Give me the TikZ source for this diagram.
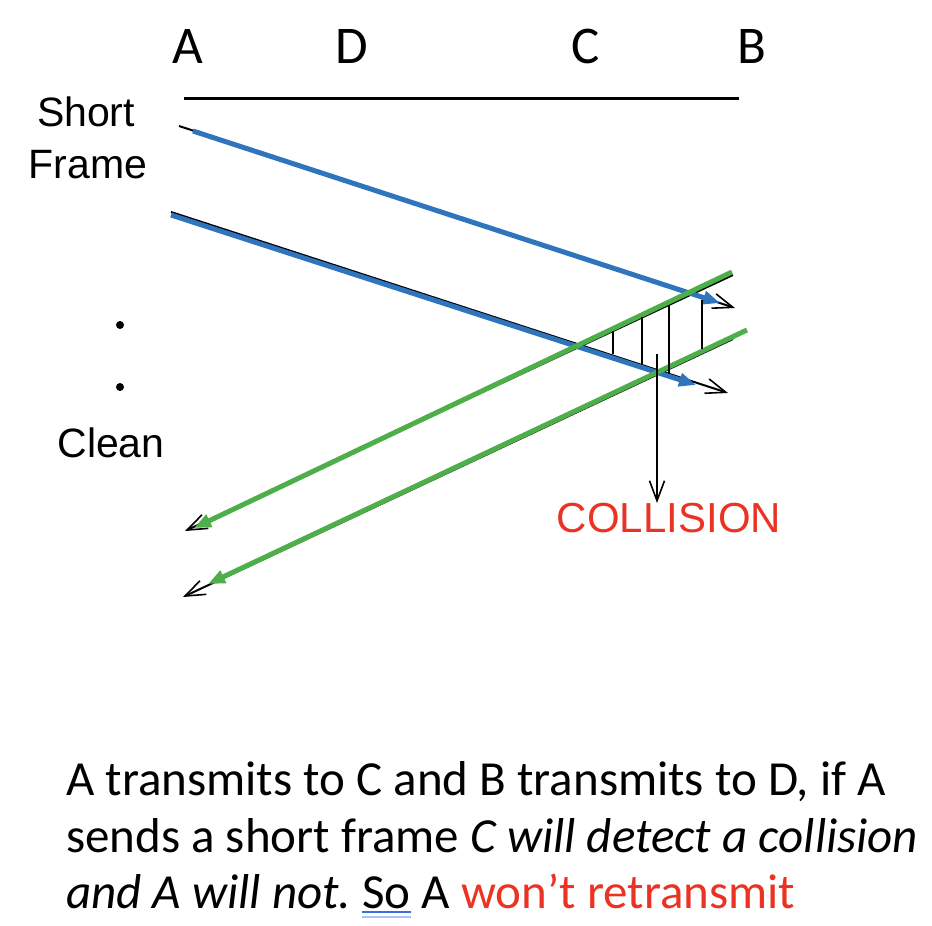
\documentclass[tikz,border=0pt]{standalone}
\usepackage{fontspec}
\setmainfont{Carlito}
\newfontfamily\arial{Liberation Sans}
\usetikzlibrary{arrows.meta}
\frenchspacing
\definecolor{sigblue}{RGB}{47,117,190}
\definecolor{siggreen}{RGB}{77,174,74}
\definecolor{alertred}{RGB}{235,51,36}
\definecolor{ulblue}{RGB}{60,110,220}
\definecolor{ulblue2}{RGB}{170,195,240}
\newcommand\spellul[1]{\leavevmode\setbox0\hbox{#1}%
  \rlap{\textcolor{ulblue}{\rule[-5pt]{\wd0}{1.6pt}}}%
  \rlap{\textcolor{ulblue2}{\rule[-10pt]{\wd0}{1.6pt}}}\box0\relax}
\tikzset{
  thinsig/.style={draw=black, line width=2pt},
  openhead/.style={-{Straight Barb[length=20pt,width=15pt,line width=1.6pt]}},
  bluesig/.style={draw=sigblue, line width=5pt, -{Triangle[length=17pt,width=13pt]}},
  greensig/.style={draw=siggreen, line width=5pt, -{Triangle[length=17pt,width=13pt]}},
  hatch/.style={draw=black, line width=1.6pt},
  station/.style={font=\fontsize{53}{60}\selectfont, anchor=base, inner sep=0pt},
  sidelabel/.style={font=\arial\fontsize{41}{48}\selectfont, anchor=base, inner sep=0pt},
  bodyline/.style={font=\fontsize{49}{57}\selectfont, anchor=base west, inner sep=0pt},
}
\begin{document}
\begin{tikzpicture}[x=1pt,y=-1pt]
\useasboundingbox (0,0) rectangle (932,926);
% station labels
\node[station] (lA) at (188,63) {A};
\node[station] (lD) at (352,63) {D};
\node[station] (lC) at (586,63) {C};
\node[station] (lB) at (752,63) {B};
% bus line
\coordinate (busL) at (184,98);
\coordinate (busR) at (739,98);
\draw[line width=3pt] (busL) -- (busR);
% side labels
\node[sidelabel] (short) at (86,126) {Short};
\node[sidelabel] (frame) at (88,178) {Frame};
\node[sidelabel] (clean) at (111,457) {Clean};
\fill (120,325) circle (4pt);
\fill (120,387) circle (4pt);
% black thin signals (A to B)
\coordinate (k1s) at (179,126);
\coordinate (k1e) at (735,308);
\coordinate (k2s) at (171,212);
\coordinate (k2e) at (728,393);
\draw[thinsig, openhead] (k1s) -- (k1e);
\draw[thinsig, openhead] (k2s) -- (k2e);
% black thin signals (B to A)
\coordinate (k3s) at (733,275);
\coordinate (k3e) at (185,531);
\coordinate (k4s) at (733,339);
\coordinate (k4e) at (183,597);
\draw[thinsig, openhead] (k3s) -- (k3e);
\draw[thinsig, openhead] (k4s) -- (k4e);
% blue signals
\coordinate (b1s) at (193,131);
\coordinate (b1e) at (720,303);
\coordinate (b2s) at (171,215);
\coordinate (b2e) at (696,385);
\draw[bluesig] (b1s) -- (b1e);
\draw[bluesig] (b2s) -- (b2e);
% green signals
\coordinate (g1s) at (732,272);
\coordinate (g1e) at (194,528);
\coordinate (g2s) at (747,330);
\coordinate (g2e) at (208,584);
\draw[greensig] (g1s) -- (g1e);
\draw[greensig] (g2s) -- (g2e);
% hatching of the overlap region
\draw[hatch] (613,331) -- (613,354);
\draw[hatch] (642,317) -- (642,365);
\draw[hatch] (669,305) -- (669,374);
\draw[hatch] (702,300) -- (702,349);
% collision pointer
\node[font=\arial\fontsize{42}{48}\selectfont, text=alertred, anchor=base, inner sep=0pt] (coll) at (669,532) {COLLISION};
\coordinate (collTop) at (657,354);
\coordinate (collTip) at (657,503);
\draw[line width=1.6pt, openhead] (collTop) -- (collTip);
% explanation text
\node[bodyline] (t1) at (66,795) {A transmits to C and B transmits to D, if A};
\node[bodyline] (t2) at (66,852) {sends a short frame \textit{C will detect a collision}};
\node[bodyline] (t3) at (66,908) {\textit{and A will not.} \spellul{So} A \textcolor{alertred}{won’t retransmit}};
\end{tikzpicture}
\end{document}
